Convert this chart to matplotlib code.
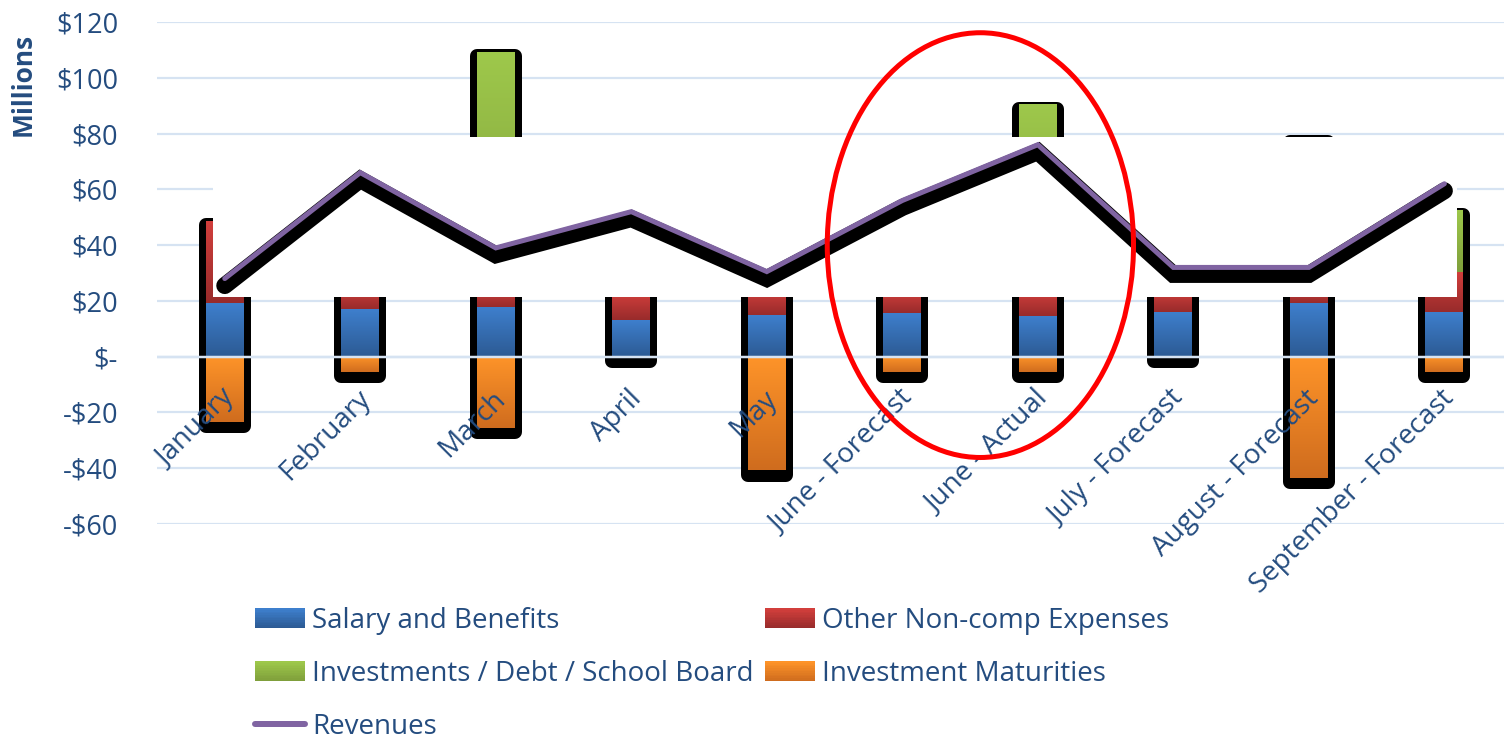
import numpy as np
import matplotlib
matplotlib.use("Agg")
import matplotlib.pyplot as plt
import matplotlib.patheffects as pe
from matplotlib.patches import Patch, Ellipse, Rectangle
from matplotlib.lines import Line2D
from matplotlib.colors import LinearSegmentedColormap
from matplotlib.ticker import FuncFormatter, MultipleLocator
from matplotlib.legend_handler import HandlerBase
import matplotlib.transforms as mtransforms

# ---------------- data ----------------
categories = ["January", "February", "March", "April", "May",
              "June - Forecast", "June - Actual", "July - Forecast",
              "August - Forecast", "September - Forecast"]
salary = [19.3, 17.0, 17.8, 13.1, 14.9, 15.7, 14.5, 15.9, 19.3, 15.9]
other = [29.4, 8.0, 7.0, 10.0, 9.0, 8.0, 9.0, 8.0, 6.0, 14.5]
investments = [0.0, 0.0, 84.5, 0.0, 0.0, 0.0, 67.0, 0.0, 53.4, 22.1]
maturities = [-23.4, -5.4, -25.5, 0.0, -40.7, -5.4, -5.4, 0.0, -43.4, -5.4]
revenues = [28.0, 66.0, 39.0, 52.0, 30.5, 56.0, 76.0, 32.0, 32.0, 62.0]

series_names = ["Salary and Benefits", "Other Non-comp Expenses",
                "Investments / Debt / School Board", "Investment Maturities"]
line_name = "Revenues"
ylabel = "Millions"

# ---------------- style ----------------
TXT = "#244c7f"
GRID = "#d6e3f2"
FONT = "Open Sans"
FS_TICK = 19.5
FS_CAT = 20
FS_LEG = 20
grads = {  # (top, bottom)
    "blue": ("#3e7fcd", "#2c5a93"),
    "red": ("#d23f3c", "#982b2b"),
    "green": ("#9ec84b", "#7f9f3b"),
    "orange": ("#fe9429", "#cf6c1e"),
}
PURPLE = "#8064a2"

plt.rcParams["font.family"] = [FONT, "DejaVu Sans"]

DPI = 100
fig = plt.figure(figsize=(15.04, 7.45), dpi=DPI)
ax = fig.add_axes([157 / 1504, 1 - 524 / 745, 1 - 157 / 1504, (524 - 22) / 745])

x = np.arange(len(categories))
W = 0.28

sal = np.array(salary)
oth = np.array(other)
inv = np.array(investments)
mat = np.array(maturities)

stack_specs = [
    (sal, np.zeros_like(sal), "blue"),
    (oth, sal, "red"),
    (inv, sal + oth, "green"),
    (mat, np.zeros_like(mat), "orange"),
]

px2pt = 72.0 / DPI

# shadows
for vals, bottom, key in stack_specs:
    bars = ax.bar(x, vals, W, bottom=bottom, color="black", edgecolor="black",
                  linewidth=14 * px2pt, zorder=1.5)
    for b, v in zip(bars, vals):
        if v == 0:
            b.set_visible(False)
        b.set_joinstyle("round")
        b.set_path_effects([pe.Stroke(offset=(0, -4.5 * px2pt))])

# fills with vertical gradient
grad = np.linspace(0, 1, 256).reshape(-1, 1)
for vals, bottom, key in stack_specs:
    top_c, bot_c = grads[key]
    bars = ax.bar(x, vals, W, bottom=bottom, color=top_c, linewidth=0, zorder=2)
    cmap = LinearSegmentedColormap.from_list(key, [bot_c, top_c])
    for b, v in zip(bars, vals):
        if v == 0:
            b.set_visible(False)
            continue
        x0, y0, w, h = b.get_x(), b.get_y(), b.get_width(), b.get_height()
        ya, yb = min(y0, y0 + h), max(y0, y0 + h)
        ax.imshow(grad, cmap=cmap, origin="lower", aspect="auto",
                  extent=(x0, x0 + w, ya, yb), zorder=2.1,
                  interpolation="bilinear")

# the white band that masks the middle of the plot in the original
ax.axhspan(21.5, 78.8, xmin=(213 - 157) / (1504 - 157), xmax=(1457 - 157) / (1504 - 157),
           color="white", lw=0, zorder=3)
ax.axhline(0, color=GRID, lw=2.5 * px2pt, zorder=3.2)

# revenues line with heavy shadow
ax.plot(x, revenues, color=PURPLE, lw=5 * px2pt, zorder=5,
        solid_capstyle="round", solid_joinstyle="miter",
        path_effects=[pe.Stroke(linewidth=17 * px2pt, foreground="black",
                                offset=(0, -7 * px2pt)),
                      pe.Normal()])

# axes styling
ax.set_xlim(-0.5, 9.44)
ax.set_ylim(-60, 120)
ax.yaxis.set_major_locator(MultipleLocator(20))


def money(v, pos):
    v = int(round(v))
    if v == 0:
        return "$-"
    if v < 0:
        return "-${}".format(-v)
    return "${}".format(v)


ax.yaxis.set_major_formatter(FuncFormatter(money))
ax.grid(axis="y", color=GRID, lw=2.2 * px2pt, zorder=0)
ax.set_axisbelow(True)
for s in ax.spines.values():
    s.set_visible(False)
ax.tick_params(axis="y", length=0, pad=28, labelsize=FS_TICK, labelcolor=TXT)
ax.set_xticks([])

# category labels below zero line
off = mtransforms.ScaledTranslation(-4 / DPI, -28 / DPI, fig.dpi_scale_trans)
for xi, lab in zip(x, categories):
    ax.text(xi, 0, lab, rotation=45, rotation_mode="anchor", ha="right", va="top",
            fontsize=FS_CAT, color=TXT, transform=ax.transData + off, zorder=6)

fig.text(23 / 1504, 1 - 84 / 745, ylabel, rotation=90, ha="center", va="center",
         fontsize=19, fontweight="bold", color=TXT)

# red ellipse annotation
ax.add_patch(Ellipse((5.576, 40.0), 2.26, 152.3, fill=False, ec="#ff0000",
                     lw=5 * px2pt, zorder=10, clip_on=False))


# legend with gradient swatches
class GradientHandler(HandlerBase):
    def __init__(self, top, bottom, n=12):
        super().__init__()
        self.top = np.array(matplotlib.colors.to_rgb(top))
        self.bottom = np.array(matplotlib.colors.to_rgb(bottom))
        self.n = n

    def create_artists(self, legend, orig_handle, xdescent, ydescent, width, height,
                       fontsize, trans):
        arts = []
        for k in range(self.n):
            t = k / (self.n - 1)
            col = self.bottom * (1 - t) + self.top * t
            r = Rectangle((-xdescent, -ydescent + height * k / self.n), width,
                          height / self.n + 0.3, facecolor=col, edgecolor="none",
                          transform=trans)
            arts.append(r)
        return arts


h_blue = Patch(label=series_names[0])
h_green = Patch(label=series_names[2])
h_red = Patch(label=series_names[1])
h_orange = Patch(label=series_names[3])
h_line = Line2D([0], [0], color=PURPLE, lw=6 * px2pt, solid_capstyle="round")
handles = [h_blue, h_green, h_line, h_red, h_orange]
labels = [series_names[0], series_names[2], line_name, series_names[1], series_names[3]]
hmap = {
    h_blue: GradientHandler(*grads["blue"]),
    h_green: GradientHandler(*grads["green"]),
    h_red: GradientHandler(*grads["red"]),
    h_orange: GradientHandler(*grads["orange"]),
}
leg = fig.legend(handles, labels, ncol=2, loc="upper left", handler_map=hmap,
                 bbox_to_anchor=(255 / 1504, 1 - 607 / 745), frameon=False,
                 fontsize=FS_LEG, handlelength=1.8, handleheight=0.72, handletextpad=0.25,
                 columnspacing=0.4, labelspacing=0.9, borderpad=0, borderaxespad=0)
for t in leg.get_texts():
    t.set_color(TXT)

fig.savefig("out.png", dpi=DPI)
